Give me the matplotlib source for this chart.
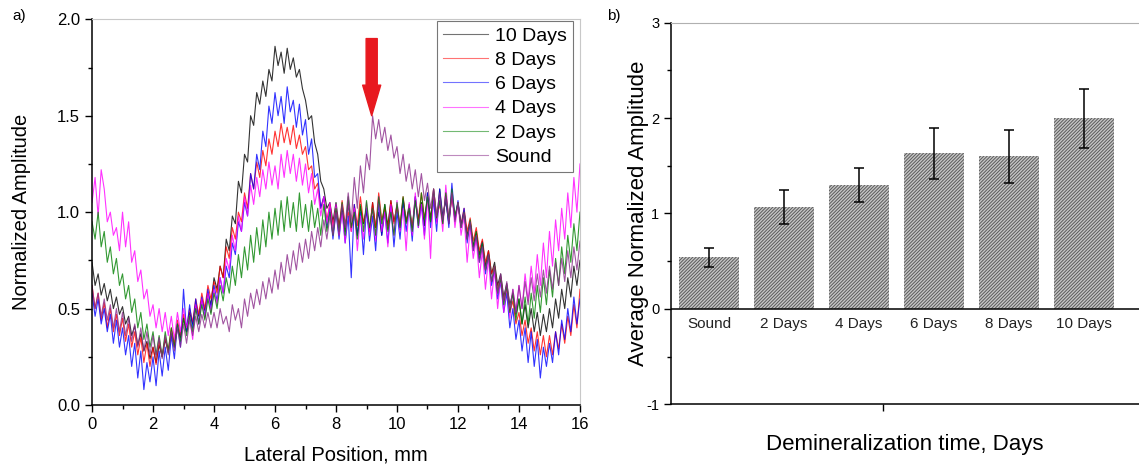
import numpy as np
import matplotlib.pyplot as plt

plt.rcParams['font.family'] = ['Liberation Sans', 'DejaVu Sans']
plt.rcParams['hatch.linewidth'] = 0.7
plt.rcParams['axes.unicode_minus'] = False

# ---------------- panel a) data, every 0.1 mm
lateral_mm = np.round(np.arange(0, 16.01, 0.1), 1)

days10 = [
    0.74, 0.62, 0.68, 0.57, 0.63, 0.54, 0.60, 0.50, 0.56, 0.47,
    0.51, 0.42, 0.46, 0.36, 0.41, 0.31, 0.37, 0.28, 0.33, 0.24,
    0.30, 0.22, 0.31, 0.25, 0.34, 0.27, 0.37, 0.30, 0.40, 0.35,
    0.45, 0.38, 0.48, 0.42, 0.52, 0.46, 0.55, 0.49, 0.58, 0.52,
    0.66, 0.60, 0.72, 0.66, 0.86, 0.80, 0.98, 0.94, 1.16, 1.10,
    1.30, 1.26, 1.50, 1.45, 1.62, 1.56, 1.68, 1.60, 1.74, 1.68,
    1.86, 1.76, 1.83, 1.72, 1.85, 1.74, 1.80, 1.70, 1.74, 1.64,
    1.58, 1.48, 1.50, 1.36, 1.30, 1.16, 1.12, 1.02, 1.05, 0.95,
    1.05, 0.93, 1.02, 0.90, 1.04, 0.92, 1.00, 0.88, 1.03, 0.94,
    1.02, 0.90, 1.05, 0.92, 1.00, 0.88, 1.04, 0.93, 1.06, 0.95,
    1.03, 0.91, 1.07, 0.95, 1.04, 0.92, 1.08, 0.96, 1.05, 0.93,
    1.10, 0.97, 1.08, 0.95, 1.12, 0.98, 1.06, 0.94, 1.09, 0.96,
    1.05, 0.93, 1.00, 0.88, 0.95, 0.82, 0.90, 0.78, 0.85, 0.72,
    0.80, 0.68, 0.74, 0.62, 0.68, 0.56, 0.63, 0.52, 0.58, 0.47,
    0.55, 0.42, 0.52, 0.40, 0.50, 0.38, 0.48, 0.36, 0.47, 0.38,
    0.50, 0.40, 0.55, 0.45, 0.60, 0.50, 0.66, 0.56, 0.72, 0.62,
    0.75]

days8 = [
    0.62, 0.50, 0.58, 0.44, 0.53, 0.40, 0.50, 0.38, 0.47, 0.36,
    0.45, 0.33, 0.42, 0.30, 0.38, 0.26, 0.35, 0.22, 0.32, 0.20,
    0.30, 0.21, 0.33, 0.25, 0.35, 0.28, 0.40, 0.32, 0.44, 0.36,
    0.47, 0.40, 0.50, 0.43, 0.55, 0.47, 0.58, 0.50, 0.62, 0.55,
    0.64, 0.58, 0.72, 0.66, 0.82, 0.76, 0.92, 0.86, 1.00, 0.95,
    1.10, 1.02, 1.20, 1.12, 1.26, 1.18, 1.32, 1.24, 1.38, 1.30,
    1.42, 1.34, 1.46, 1.36, 1.44, 1.35, 1.45, 1.33, 1.40, 1.30,
    1.34, 1.22, 1.24, 1.12, 1.15, 1.02, 1.08, 0.96, 1.04, 0.93,
    1.02, 0.92, 1.06, 0.94, 1.00, 0.90, 1.04, 0.93, 1.08, 0.95,
    1.00, 0.90, 1.05, 0.92, 1.10, 0.96, 1.02, 0.91, 1.06, 0.94,
    1.04, 0.93, 1.08, 0.95, 1.02, 0.92, 1.06, 0.96, 1.10, 0.97,
    1.06, 0.95, 1.12, 0.98, 1.04, 0.94, 1.10, 0.96, 1.08, 0.98,
    1.04, 0.94, 1.02, 0.90, 0.97, 0.85, 0.92, 0.80, 0.86, 0.74,
    0.80, 0.68, 0.72, 0.60, 0.66, 0.54, 0.60, 0.48, 0.54, 0.42,
    0.48, 0.36, 0.44, 0.32, 0.40, 0.28, 0.38, 0.26, 0.36, 0.25,
    0.36, 0.26, 0.38, 0.29, 0.42, 0.32, 0.46, 0.36, 0.52, 0.40,
    0.60]

days6 = [
    0.58, 0.46, 0.55, 0.42, 0.50, 0.38, 0.47, 0.32, 0.44, 0.30,
    0.40, 0.26, 0.36, 0.20, 0.32, 0.14, 0.28, 0.08, 0.22, 0.12,
    0.25, 0.10, 0.28, 0.15, 0.30, 0.18, 0.36, 0.24, 0.42, 0.30,
    0.60, 0.38, 0.52, 0.40, 0.55, 0.42, 0.56, 0.46, 0.60, 0.50,
    0.62, 0.54, 0.66, 0.58, 0.72, 0.66, 0.84, 0.78, 0.95, 0.90,
    1.05, 0.98, 1.20, 1.12, 1.30, 1.22, 1.42, 1.34, 1.55, 1.46,
    1.62, 1.50, 1.60, 1.46, 1.65, 1.52, 1.58, 1.44, 1.56, 1.40,
    1.48, 1.30, 1.38, 1.18, 1.20, 1.02, 1.08, 0.92, 1.02, 0.86,
    1.00, 0.86, 1.02, 0.84, 0.98, 0.66, 1.04, 0.88, 1.00, 0.78,
    1.02, 0.85, 0.98, 0.80, 1.05, 0.88, 1.00, 0.84, 1.03, 0.82,
    1.00, 0.86, 1.06, 0.90, 1.02, 0.85, 1.08, 0.92, 1.04, 0.88,
    1.10, 0.92, 1.06, 0.90, 1.12, 0.95, 1.08, 0.92, 1.15, 0.96,
    1.06, 0.92, 1.02, 0.84, 0.95, 0.80, 0.88, 0.74, 0.84, 0.68,
    0.78, 0.62, 0.70, 0.55, 0.64, 0.48, 0.58, 0.40, 0.50, 0.34,
    0.44, 0.28, 0.40, 0.22, 0.38, 0.20, 0.34, 0.14, 0.30, 0.20,
    0.32, 0.22, 0.38, 0.26, 0.44, 0.34, 0.50, 0.38, 0.56, 0.42,
    0.55]

days4 = [
    1.05, 1.18, 0.98, 1.22, 1.12, 0.95, 1.00, 0.88, 0.92, 0.80,
    1.00, 0.82, 0.95, 0.74, 0.80, 0.64, 0.70, 0.55, 0.60, 0.46,
    0.52, 0.40, 0.50, 0.38, 0.48, 0.36, 0.46, 0.34, 0.48, 0.38,
    0.50, 0.40, 0.46, 0.34, 0.52, 0.42, 0.55, 0.45, 0.58, 0.48,
    0.60, 0.52, 0.66, 0.58, 0.76, 0.70, 0.88, 0.80, 0.98, 0.90,
    1.08, 0.98, 1.14, 1.04, 1.18, 1.08, 1.22, 1.12, 1.26, 1.14,
    1.24, 1.12, 1.30, 1.18, 1.32, 1.20, 1.30, 1.16, 1.28, 1.14,
    1.25, 1.10, 1.20, 1.04, 1.12, 0.98, 1.08, 0.94, 1.05, 0.90,
    1.04, 0.88, 1.00, 0.84, 1.06, 0.90, 1.02, 0.80, 0.98, 0.86,
    1.05, 0.88, 1.02, 0.85, 1.08, 0.90, 1.00, 0.82, 1.04, 0.88,
    1.06, 0.90, 1.02, 0.80, 1.05, 0.88, 1.10, 0.92, 1.04, 0.86,
    1.08, 0.76, 1.12, 0.94, 1.06, 0.90, 1.14, 0.96, 1.10, 0.92,
    1.05, 0.88, 0.98, 0.74, 0.92, 0.76, 0.86, 0.66, 0.80, 0.60,
    0.76, 0.55, 0.70, 0.50, 0.66, 0.48, 0.62, 0.45, 0.60, 0.48,
    0.62, 0.50, 0.68, 0.54, 0.72, 0.58, 0.78, 0.62, 0.84, 0.66,
    0.90, 0.72, 0.96, 0.80, 1.02, 0.86, 1.10, 0.92, 1.18, 1.00,
    1.25]

days2 = [
    0.95, 0.86, 1.00, 0.82, 0.90, 0.74, 0.82, 0.68, 0.76, 0.62,
    0.68, 0.55, 0.62, 0.48, 0.55, 0.40, 0.48, 0.34, 0.42, 0.30,
    0.38, 0.26, 0.36, 0.25, 0.38, 0.28, 0.40, 0.30, 0.42, 0.33,
    0.45, 0.36, 0.46, 0.38, 0.50, 0.42, 0.52, 0.44, 0.55, 0.47,
    0.58, 0.50, 0.62, 0.54, 0.66, 0.58, 0.72, 0.62, 0.78, 0.66,
    0.82, 0.70, 0.88, 0.74, 0.92, 0.78, 0.96, 0.82, 1.00, 0.86,
    1.02, 0.88, 1.06, 0.90, 1.08, 0.92, 1.05, 0.90, 1.10, 0.92,
    1.04, 0.90, 1.06, 0.92, 1.02, 0.88, 1.04, 0.90, 1.00, 0.88,
    1.02, 0.90, 1.05, 0.88, 1.08, 0.92, 1.00, 0.86, 1.04, 0.90,
    1.06, 0.92, 1.02, 0.88, 1.08, 0.94, 1.04, 0.90, 1.00, 0.88,
    1.05, 0.92, 1.08, 0.94, 1.02, 0.90, 1.06, 0.93, 1.10, 0.96,
    1.08, 0.95, 1.12, 0.97, 1.06, 0.94, 1.10, 0.96, 1.12, 0.98,
    1.05, 0.92, 1.00, 0.86, 0.96, 0.82, 0.90, 0.76, 0.84, 0.70,
    0.78, 0.64, 0.72, 0.58, 0.66, 0.52, 0.62, 0.48, 0.58, 0.44,
    0.55, 0.42, 0.56, 0.42, 0.58, 0.45, 0.62, 0.48, 0.66, 0.52,
    0.70, 0.56, 0.76, 0.62, 0.82, 0.68, 0.88, 0.74, 0.94, 0.80,
    1.00]

sound = [
    0.62, 0.50, 0.58, 0.46, 0.55, 0.44, 0.52, 0.40, 0.50, 0.38,
    0.48, 0.36, 0.45, 0.33, 0.42, 0.30, 0.40, 0.28, 0.38, 0.26,
    0.36, 0.25, 0.35, 0.24, 0.36, 0.26, 0.38, 0.28, 0.40, 0.30,
    0.42, 0.32, 0.44, 0.36, 0.46, 0.38, 0.47, 0.40, 0.48, 0.40,
    0.48, 0.40, 0.50, 0.42, 0.46, 0.38, 0.52, 0.44, 0.50, 0.40,
    0.55, 0.46, 0.58, 0.50, 0.60, 0.52, 0.64, 0.55, 0.66, 0.58,
    0.70, 0.60, 0.74, 0.64, 0.78, 0.68, 0.80, 0.70, 0.84, 0.74,
    0.86, 0.76, 0.90, 0.80, 0.92, 0.82, 0.96, 0.86, 0.98, 0.88,
    1.00, 0.88, 1.04, 0.92, 1.10, 0.95, 1.18, 1.02, 1.24, 1.10,
    1.30, 1.22, 1.50, 1.38, 1.48, 1.36, 1.44, 1.32, 1.40, 1.28,
    1.34, 1.20, 1.30, 1.16, 1.25, 1.12, 1.22, 1.08, 1.20, 1.06,
    1.15, 1.02, 1.12, 0.98, 1.10, 0.96, 1.08, 0.94, 1.10, 0.95,
    1.05, 0.92, 1.00, 0.86, 0.95, 0.80, 0.88, 0.74, 0.82, 0.70,
    0.78, 0.64, 0.72, 0.58, 0.68, 0.54, 0.64, 0.50, 0.60, 0.48,
    0.62, 0.50, 0.64, 0.52, 0.66, 0.54, 0.68, 0.56, 0.70, 0.58,
    0.72, 0.60, 0.74, 0.62, 0.76, 0.64, 0.80, 0.66, 0.82, 0.70,
    0.85]

series_labels = ['10 Days', '8 Days', '6 Days', '4 Days', '2 Days', 'Sound']
series_colors = ['#000000', '#ff0000', '#0000ff', '#ff00ff', '#008000', '#8a2a8a']
peak_x, peak_y = 9.17, 1.50   # arrow marks the Sound peak

# ---------------- panel b) data
groups = ['Sound', '2 Days', '4 Days', '6 Days', '8 Days', '10 Days']
avg_amp = [0.54, 1.07, 1.30, 1.63, 1.60, 2.00]
avg_err = [0.10, 0.18, 0.18, 0.27, 0.28, 0.31]

fig = plt.figure(figsize=(11.39, 4.66), dpi=100)

# ---------------- a)
ax = fig.add_axes([0.0808, 0.1309, 0.4284, 0.8277])
for vals, lab, col in zip([days10, days8, days6, days4, days2, sound],
                          series_labels, series_colors):
    ax.plot(lateral_mm, vals, color=col, lw=0.8, alpha=0.8, label=lab)

ax.annotate('', xy=(peak_x, peak_y), xytext=(peak_x, 1.90),
            arrowprops=dict(arrowstyle='simple,head_length=2.2,head_width=1.3,tail_width=0.8',
                            color='#e8191f', mutation_scale=10, shrinkA=0, shrinkB=0))

ax.set_xlim(0, 16)
ax.set_ylim(0, 2.0)
ax.set_xticks(range(0, 17, 2))
ax.set_xticks(range(1, 17, 2), minor=True)
ax.set_yticks([0.0, 0.5, 1.0, 1.5, 2.0])
ax.set_yticklabels(['0.0', '0.5', '1.0', '1.5', '2.0'])
ax.set_yticks(np.arange(0.25, 2.0, 0.5), minor=True)
ax.tick_params(which='major', direction='out', length=5, width=1, labelsize=12)
ax.tick_params(which='minor', direction='out', length=3, width=1)
for s in ['top', 'right']:
    ax.spines[s].set_color('#c8c8c8')
ax.spines['left'].set_linewidth(1.1)
ax.spines['bottom'].set_linewidth(1.1)
ax.set_xlabel('Lateral Position, mm', fontsize=14.5, labelpad=10)
ax.set_ylabel('Normalized Amplitude', fontsize=14.5, labelpad=19)

leg = ax.legend(loc='upper right', bbox_to_anchor=(0.986, 0.995), fontsize=14,
                frameon=True, fancybox=False, handlelength=2.3, labelspacing=0.34,
                borderaxespad=0, handletextpad=0.4, borderpad=0.3)
leg.get_frame().set_edgecolor('#555555')
leg.get_frame().set_linewidth(0.8)
for h in leg.get_lines():
    h.set_alpha(0.55)

fig.text(0.011, 0.965, 'a)', fontsize=11, va='center')

# ---------------- b)
bx = fig.add_axes([0.5891, 0.1324, 0.4109, 0.8189])
pos = np.arange(len(groups))
bx.bar(pos, avg_amp, width=0.81, color='#c6c6c6', edgecolor='#5a5a5a',
       linewidth=0, hatch='//////////', zorder=2)
bx.errorbar(pos, avg_amp, yerr=avg_err, fmt='none', ecolor='black',
            elinewidth=1.1, capsize=3.5, capthick=1.1, zorder=3)
bx.axhline(0, color='black', lw=1.1, zorder=4)
for p, g in zip(pos, groups):
    bx.text(p, -0.16, g, ha='center', va='center', fontsize=11, color='#222222')

bx.set_xlim(-0.507, 5.733)
bx.set_ylim(-1, 3)
bx.set_xticks([2.32])
bx.set_xticklabels([''])
bx.set_yticks([-1, 0, 1, 2, 3])
bx.set_yticks([-0.5, 0.5, 1.5, 2.5], minor=True)
bx.tick_params(which='major', direction='out', length=5, width=1, labelsize=10.5)
bx.tick_params(which='minor', direction='out', length=3, width=1)
bx.spines['top'].set_color('#b0b0b0')
bx.spines['right'].set_visible(False)
bx.spines['left'].set_linewidth(1.1)
bx.spines['bottom'].set_linewidth(1.1)
bx.set_xlabel('Demineralization time, Days', fontsize=16, labelpad=13)
bx.set_ylabel('Average Normalized Amplitude', fontsize=16, labelpad=-2)

fig.text(0.533, 0.965, 'b)', fontsize=11, va='center')

fig.savefig('out.png', dpi=100)
